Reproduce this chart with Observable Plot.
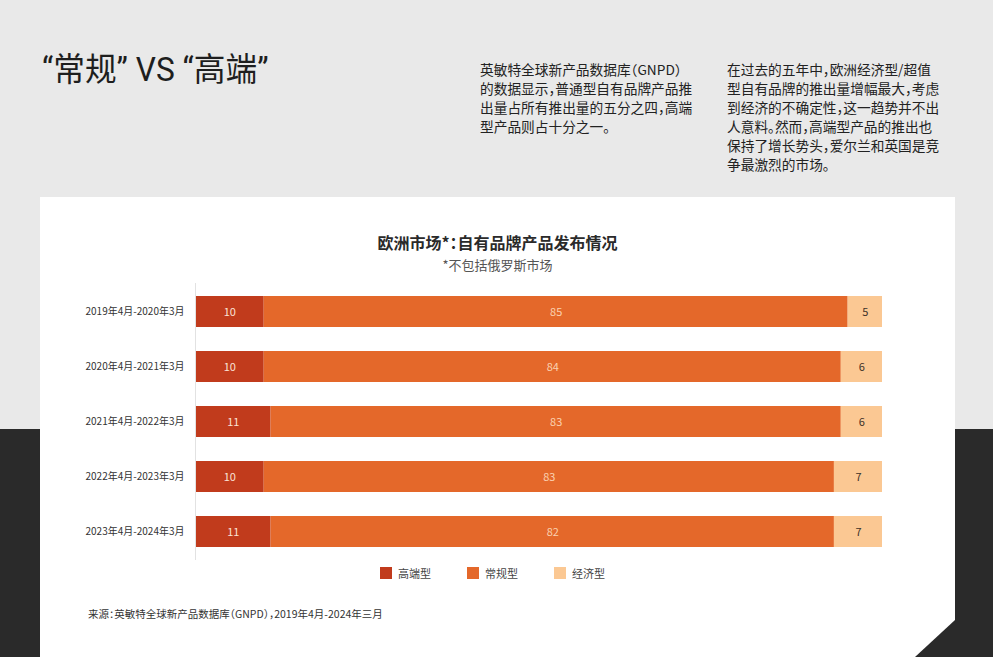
<!DOCTYPE html>
<html lang="zh-CN">
<head>
<meta charset="utf-8">
<script src="https://cdn.jsdelivr.net/npm/d3@7"></script>
<script src="https://cdn.jsdelivr.net/npm/@observablehq/plot@0.6"></script>
<style>
  html, body { margin: 0; padding: 0; }
  body {
    width: 993px; height: 657px; overflow: hidden; position: relative;
    background: linear-gradient(to bottom, #e9e9e9 0px, #e9e9e9 429px, #2a2a2a 429px, #2a2a2a 657px);
    font-family: "Noto Sans CJK SC", "Noto Sans", sans-serif;
    font-feature-settings: "halt";
    color: #222;
  }
  #headline {
    position: absolute; left: 42px; top: 50px; margin: 0;
    font-family: "Roboto", "Noto Sans CJK SC", sans-serif;
    font-weight: 400; font-size: 33px; line-height: 40px; color: #1e1e1e;
    transform-origin: left center; transform: scaleX(0.96);
    white-space: nowrap;
  }
  .para {
    position: absolute; top: 60px; margin: 0;
    font-size: 13.7px; line-height: 19px; color: #222; white-space: nowrap;
  }
  #p1 { left: 480px; }
  #p2 { left: 727px; }
  #card {
    position: absolute; left: 40px; top: 197px; width: 915px; height: 460px;
    background: #ffffff;
    clip-path: polygon(0 0, 100% 0, 100% 423px, 875px 100%, 0 100%);
  }
  #ctitle {
    position: absolute; left: 0; width: 915px; top: 33px; text-align: center;
    font-size: 16px; font-weight: 700; color: #2a2a2a; line-height: 24px;
  }
  #csub {
    position: absolute; left: 0; width: 915px; top: 59px; text-align: center;
    font-size: 13px; color: #555; line-height: 18px;
  }
  #chart { position: absolute; left: 0; top: 63px; }
  #legend {
    position: absolute; left: 340px; top: 367px; display: flex; gap: 36px;
    font-size: 11px; color: #444; line-height: 18px;
  }
  .item { display: flex; align-items: center; gap: 6px; }
  .sw { width: 12px; height: 12px; display: inline-block; }
  #source {
    position: absolute; left: 48px; top: 409px; font-size: 10.5px; color: #333; line-height: 16px;
  }
</style>
</head>
<body>
<h1 id="headline">“常规” VS “高端”</h1>
<p class="para" id="p1">英敏特全球新产品数据库（GNPD）<br>的数据显示，普通型自有品牌产品推<br>出量占所有推出量的五分之四，高端<br>型产品则占十分之一。</p>
<p class="para" id="p2">在过去的五年中，欧洲经济型/超值<br>型自有品牌的推出量增幅最大，考虑<br>到经济的不确定性，这一趋势并不出<br>人意料。然而，高端型产品的推出也<br>保持了增长势头，爱尔兰和英国是竞<br>争最激烈的市场。</p>
<div id="card">
  <div id="ctitle">欧洲市场*：自有品牌产品发布情况</div>
  <div id="csub">*不包括俄罗斯市场</div>
  <div id="chart"></div>
  <div id="legend"></div>
  <div id="source">来源：英敏特全球新产品数据库（GNPD），2019年4月-2024年三月</div>
</div>
<script>
// ---- data ----
const periods = ["2019年4月-2020年3月", "2020年4月-2021年3月", "2021年4月-2022年3月", "2022年4月-2023年3月", "2023年4月-2024年3月"];
const types = ["高端型", "常规型", "经济型"];
const premium = [10, 10, 11, 10, 11];
const standard = [85, 84, 83, 83, 82];
const economy = [5, 6, 6, 7, 7];

// ---- styles ----
const colors = ["#c13b1c", "#e4682a", "#fbc893"];
const labelColors = ["#fbe3d6", "#fbd2b2", "#3d3128"];

const series = [premium, standard, economy];
const rows = [];
periods.forEach((p, i) => {
  types.forEach((t, j) => rows.push({period: p, type: t, value: series[j][i]}));
});

const chart = Plot.plot({
  width: 915,
  height: 312,
  marginLeft: 155,
  marginRight: 73,
  marginTop: 10,
  marginBottom: 0,
  style: {fontFamily: '"Noto Sans CJK SC", sans-serif', background: "transparent", color: "#333"},
  x: {domain: [0, 100], axis: null},
  y: {domain: periods, padding: 0.44, label: null, tickSize: 0, tickPadding: 11, fontSize: 10},
  color: {domain: types, range: colors},
  marks: [
    Plot.barX(rows, Plot.stackX({x: "value", y: "period", fill: "type", order: types})),
    Plot.text(rows, Plot.stackX({
      x: "value", y: "period", z: "type", order: types, text: d => String(d.value),
      fill: d => labelColors[types.indexOf(d.type)], fontSize: 11
    })),
    Plot.ruleX([0], {stroke: "#e2e2e2", strokeWidth: 1, insetTop: 13, insetBottom: 12}),
    Plot.axisY({tickSize: 0, tickPadding: 11, fontSize: 10, label: null})
  ]
});
document.getElementById("chart").appendChild(chart);

// legend built from the same arrays
const legend = document.getElementById("legend");
types.forEach((t, i) => {
  const item = document.createElement("div");
  item.className = "item";
  const sw = document.createElement("span");
  sw.className = "sw";
  sw.style.background = colors[i];
  const lab = document.createElement("span");
  lab.textContent = t;
  item.appendChild(sw);
  item.appendChild(lab);
  legend.appendChild(item);
});
</script>
</body>
</html>
